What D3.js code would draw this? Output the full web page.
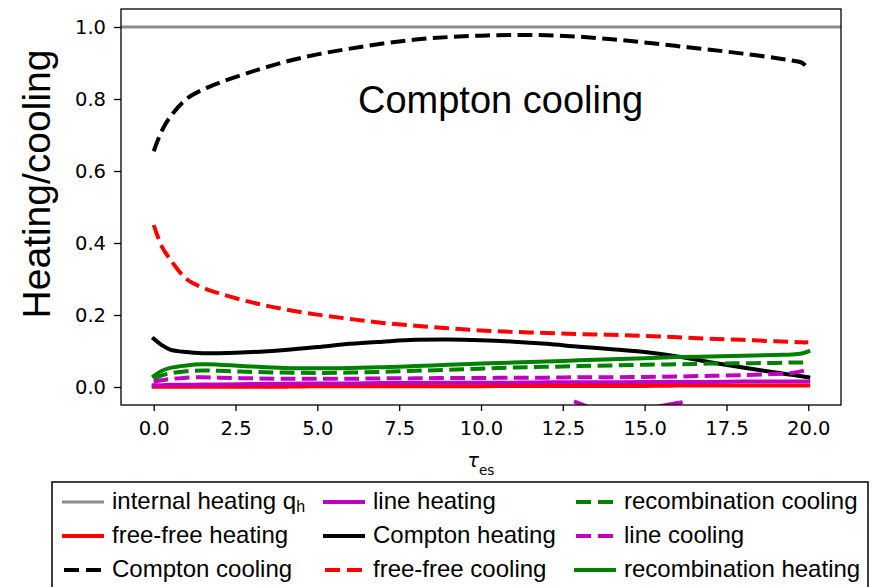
<!DOCTYPE html>
<html>
<head>
<meta charset="utf-8">
<script src="https://cdn.jsdelivr.net/npm/d3@7"></script>
<style>
  html, body { margin: 0; padding: 0; background: #fff; }
  svg { display: block; }
</style>
</head>
<body>
<svg id="chart" width="881" height="587"></svg>
<script>
// Optical depth grid shared by all heating/cooling fractions
const tauGrid = [0, 0.25, 0.5, 1, 1.5, 2, 3, 4, 5, 6, 7, 8, 9, 10, 11, 12, 13, 14, 15, 16, 17, 18, 19, 19.5, 19.8, 20];

const comptonCooling   = [0.655, 0.712, 0.750, 0.800, 0.826, 0.845, 0.876, 0.903, 0.924, 0.940, 0.954, 0.965, 0.972, 0.976, 0.978, 0.977, 0.973, 0.966, 0.957, 0.947, 0.937, 0.926, 0.914, 0.907, 0.901, 0.885];
const freeFreeCooling  = [0.450, 0.390, 0.355, 0.300, 0.276, 0.260, 0.235, 0.216, 0.201, 0.189, 0.178, 0.170, 0.163, 0.157, 0.153, 0.150, 0.147, 0.145, 0.142, 0.138, 0.134, 0.131, 0.127, 0.125, 0.124, 0.124];
const comptonHeating   = [0.134, 0.116, 0.104, 0.097, 0.094, 0.094, 0.097, 0.103, 0.111, 0.120, 0.126, 0.131, 0.132, 0.130, 0.126, 0.120, 0.112, 0.105, 0.097, 0.085, 0.069, 0.054, 0.040, 0.034, 0.030, 0.027];
const recombHeating    = [0.030, 0.045, 0.053, 0.060, 0.063, 0.062, 0.057, 0.053, 0.052, 0.053, 0.055, 0.058, 0.062, 0.065, 0.068, 0.071, 0.074, 0.077, 0.080, 0.083, 0.085, 0.087, 0.089, 0.090, 0.093, 0.099];
const recombCooling    = [0.022, 0.032, 0.038, 0.044, 0.046, 0.045, 0.042, 0.040, 0.039, 0.040, 0.042, 0.045, 0.048, 0.051, 0.054, 0.056, 0.058, 0.060, 0.062, 0.063, 0.065, 0.066, 0.067, 0.068, 0.068, 0.069];
const lineCooling      = [0.015, 0.019, 0.022, 0.026, 0.027, 0.026, 0.024, 0.023, 0.023, 0.023, 0.024, 0.024, 0.025, 0.025, 0.026, 0.026, 0.027, 0.027, 0.028, 0.029, 0.031, 0.033, 0.036, 0.039, 0.044, 0.050];
const lineHeating      = [0.005, 0.005, 0.006, 0.006, 0.007, 0.007, 0.008, 0.009, 0.010, 0.010, 0.011, 0.011, 0.012, 0.012, 0.012, 0.013, 0.013, 0.013, 0.014, 0.014, 0.014, 0.015, 0.015, 0.015, 0.015, 0.015];
const freeFreeHeating  = [0.001, 0.001, 0.001, 0.001, 0.001, 0.001, 0.001, 0.001, 0.002, 0.002, 0.002, 0.002, 0.002, 0.002, 0.003, 0.003, 0.003, 0.003, 0.003, 0.004, 0.004, 0.004, 0.004, 0.004, 0.004, 0.004];

// Second (negative) branch of the line heating solution
const lineHeatingDipTau    = [12.9, 13.1, 13.3, 13.7, 14.2, 14.7, 15.1, 15.4, 15.8, 16.1];
const lineHeatingDipValues = [-0.042, -0.049, -0.056, -0.064, -0.070, -0.068, -0.061, -0.055, -0.048, -0.043];

const internalHeatingLevel = 1.0;

const xTicks = [0, 2.5, 5, 7.5, 10, 12.5, 15, 17.5, 20];
const yTicks = [0, 0.2, 0.4, 0.6, 0.8, 1.0];

// Legend entries, in column-major order (3 columns)
const legendLabels = ["internal heating q", "free-free heating", "Compton cooling",
                      "line heating", "Compton heating", "free-free cooling",
                      "recombination cooling", "line cooling", "recombination heating"];

const styles = {
  "internal heating q":    { color: "#8c8c8c", dash: null, width: 3 },
  "free-free heating":     { color: "#ff0000", dash: null, width: 4 },
  "Compton cooling":       { color: "#000000", dash: "14.8,6.4", width: 4 },
  "line heating":          { color: "#bf00bf", dash: null, width: 4 },
  "Compton heating":       { color: "#000000", dash: null, width: 4 },
  "free-free cooling":     { color: "#ff0000", dash: "14.8,6.4", width: 4 },
  "recombination cooling": { color: "#008000", dash: "14.8,6.4", width: 4 },
  "line cooling":          { color: "#bf00bf", dash: "14.8,6.4", width: 4 },
  "recombination heating": { color: "#008000", dash: null, width: 4 }
};

const seriesValues = {
  "free-free heating": freeFreeHeating,
  "Compton cooling": comptonCooling,
  "line heating": lineHeating,
  "Compton heating": comptonHeating,
  "free-free cooling": freeFreeCooling,
  "recombination cooling": recombCooling,
  "line cooling": lineCooling,
  "recombination heating": recombHeating
};

const svg = d3.select("#chart");
const plot = { left: 121, top: 9, right: 841, bottom: 405 };

const x = d3.scaleLinear().domain([-1, 21]).range([plot.left, plot.right]);
const y = d3.scaleLinear().domain([-0.05, 1.05]).range([plot.bottom, plot.top]);

svg.append("defs").append("clipPath").attr("id", "plotClip")
  .append("rect")
  .attr("x", plot.left).attr("y", plot.top)
  .attr("width", plot.right - plot.left).attr("height", plot.bottom - plot.top);

const lines = svg.append("g").attr("clip-path", "url(#plotClip)");

const lineGen = d3.line()
  .x(d => x(d[0]))
  .y(d => y(d[1]))
  .curve(d3.curveCatmullRom.alpha(0.5));

function drawSeries(name, pts) {
  const s = styles[name];
  lines.append("path")
    .datum(pts)
    .attr("d", lineGen)
    .attr("fill", "none")
    .attr("stroke", s.color)
    .attr("stroke-width", s.width)
    .attr("stroke-dasharray", s.dash)
    .attr("stroke-linejoin", "round")
    .attr("stroke-linecap", s.dash ? "butt" : "square");
}

// internal heating spans the full axis width
drawSeries("internal heating q", x.domain().map(t => [t, internalHeatingLevel]));

legendLabels.slice(1).forEach(name => {
  const vals = seriesValues[name];
  drawSeries(name, tauGrid.map((t, i) => [t, vals[i]]));
  if (name === "line heating") {
    drawSeries(name, lineHeatingDipTau.map((t, i) => [t, lineHeatingDipValues[i]]));
  }
});

// Axes
const xAxis = d3.axisBottom(x).tickValues(xTicks).tickFormat(d3.format(".1f")).tickSize(6).tickPadding(10);
const yAxis = d3.axisLeft(y).tickValues(yTicks).tickFormat(d3.format(".1f")).tickSize(7).tickPadding(8);

const gx = svg.append("g").attr("transform", `translate(0,${plot.bottom})`).call(xAxis);
const gy = svg.append("g").attr("transform", `translate(${plot.left},0)`).call(yAxis);
[gx, gy].forEach(g => {
  g.select(".domain").remove();
  g.selectAll(".tick line").attr("stroke", "#000").attr("stroke-width", 1.3);
  g.selectAll(".tick text")
    .attr("font-family", "DejaVu Sans")
    .attr("font-size", 19.5)
    .attr("fill", "#000");
});

// Frame
svg.append("rect")
  .attr("x", plot.left).attr("y", plot.top)
  .attr("width", plot.right - plot.left).attr("height", plot.bottom - plot.top)
  .attr("fill", "none").attr("stroke", "#000").attr("stroke-width", 1.3);

// Axis titles
svg.append("text")
  .attr("transform", "translate(50,184) rotate(-90)")
  .attr("text-anchor", "middle")
  .attr("font-family", "Liberation Sans")
  .attr("font-size", 39)
  .attr("fill", "#000")
  .text("Heating/cooling");

const xt = svg.append("text")
  .attr("x", (plot.left + plot.right) / 2)
  .attr("y", 467)
  .attr("text-anchor", "middle")
  .attr("font-family", "DejaVu Sans")
  .attr("fill", "#000");
xt.append("tspan").attr("font-size", 19).attr("font-style", "italic").text("τ");
xt.append("tspan").attr("font-size", 13.5).attr("dy", 8).text("es");

// Annotation
svg.append("text")
  .attr("x", 358).attr("y", 113)
  .attr("font-family", "Liberation Sans")
  .attr("font-size", 38)
  .attr("fill", "#000")
  .text("Compton cooling");

// Legend
const legend = svg.append("g");
legend.append("rect")
  .attr("x", 52).attr("y", 482)
  .attr("width", 816).attr("height", 130)
  .attr("fill", "#fff").attr("stroke", "#000").attr("stroke-width", 1.5);

const colX = [62, 323, 574];
const rowBase = [509, 543, 577];
legendLabels.forEach((name, i) => {
  const col = Math.floor(i / 3), row = i % 3;
  const s = styles[name];
  const x0 = colX[col], yb = rowBase[row];
  legend.append("line")
    .attr("x1", x0).attr("x2", x0 + 42)
    .attr("y1", yb - 7).attr("y2", yb - 7)
    .attr("stroke", s.color)
    .attr("stroke-width", s.width)
    .attr("stroke-dasharray", s.dash ? "15,7" : null)
    .attr("stroke-dashoffset", s.dash ? -2 : null);
  const t = legend.append("text")
    .attr("x", x0 + 50).attr("y", yb)
    .attr("font-family", "Liberation Sans")
    .attr("font-size", 24)
    .attr("fill", "#000")
    .text(name);
  if (name === "internal heating q") {
    t.append("tspan").attr("font-size", 16).attr("dy", 3).text("h");
  }
});
</script>
</body>
</html>
